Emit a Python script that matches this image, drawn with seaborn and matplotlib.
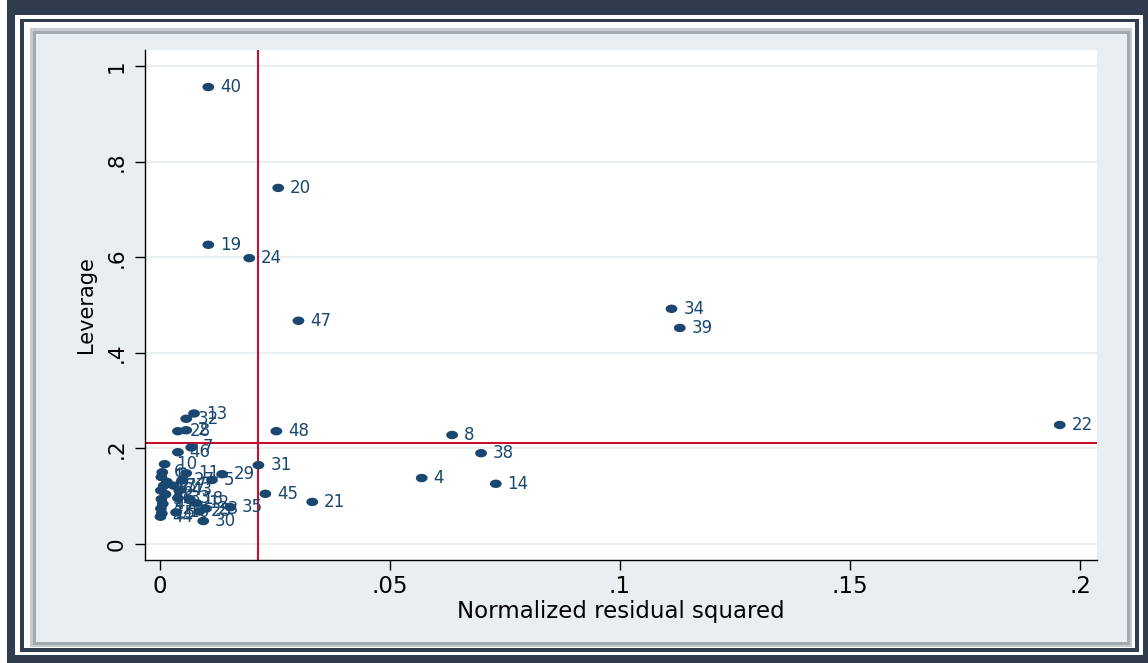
import numpy as np
import pandas as pd
import seaborn as sns
import matplotlib.pyplot as plt
from matplotlib.patches import Rectangle
from matplotlib.path import Path

obs = [40, 20, 19, 24, 47, 34, 39, 22, 8, 38, 4, 14, 48, 31, 45, 21, 35, 30,
       13, 32, 28, 2, 46, 7,
       10, 6, 1, 9, 17, 26, 3, 36, 41, 42, 15, 44, 16,
       11, 27, 37, 43, 33, 18, 12, 23, 25, 29, 5]
nrs = [0.0105, 0.0257, 0.0105, 0.0194, 0.0301, 0.1112, 0.1130, 0.1956, 0.0635,
       0.0698, 0.0569, 0.0730, 0.0253, 0.0214, 0.0229, 0.0331, 0.0153, 0.0094,
       0.0074, 0.0057, 0.0039, 0.0057, 0.0039, 0.0068,
       0.0010, 0.0005, 0.0003, 0.0015, 0.0008, 0.0002, 0.0012, 0.0003, 0.0006,
       0.0002, 0.0004, 0.0001, 0.0035,
       0.0057, 0.0048, 0.0030, 0.0042, 0.0039, 0.0065, 0.0080, 0.0100, 0.0085,
       0.0135, 0.0113]
lev = [0.956, 0.745, 0.626, 0.598, 0.467, 0.492, 0.452, 0.249, 0.228, 0.190,
       0.138, 0.126, 0.236, 0.165, 0.105, 0.088, 0.077, 0.048,
       0.273, 0.262, 0.236, 0.238, 0.192, 0.202,
       0.167, 0.150, 0.140, 0.130, 0.122, 0.112, 0.104, 0.094, 0.084, 0.074,
       0.064, 0.057, 0.066,
       0.148, 0.133, 0.122, 0.112, 0.096, 0.094, 0.085, 0.074, 0.068, 0.146,
       0.134]
mean_nrs = 0.0213
mean_lev = 0.2105

xticks = [0, 0.05, 0.1, 0.15, 0.2]
xtick_labels = ["0", ".05", ".1", ".15", ".2"]
yticks = [0, 0.2, 0.4, 0.6, 0.8, 1]
ytick_labels = ["0", ".2", ".4", ".6", ".8", "1"]

df = pd.DataFrame({"obs": obs, "nrs": nrs, "lev": lev})

navy = "#1a476f"
red = "#c8102e"
dark = "#2f3d4e"
panel = "#e8eef1"

sns.set_style("ticks")
plt.rcParams["font.family"] = ["DejaVu Sans"]

W, H = 1148, 663
fig = plt.figure(figsize=(W / 100, H / 100), dpi=100)
fig.patch.set_facecolor("white")


def box(x0, y0, x1, y1, color, z):
    fig.patches.append(Rectangle((x0 / W, 1 - y1 / H), (x1 - x0) / W, (y1 - y0) / H,
                                 transform=fig.transFigure, facecolor=color,
                                 edgecolor="none", zorder=z))


# framed border around the graph
box(7, 0, W, H, dark, -10)
box(15, 15, 1143, 655, "white", -9)
box(20, 19, 1139, 652, dark, -8)
box(24, 22, 1135, 648, "white", -7)
box(30, 28, 1132, 647, "#c5ccd0", -6)
box(33, 31, 1130, 645, "#a3abb1", -5)
box(36, 34, 1127, 642, panel, -4)

ax = fig.add_axes([145 / W, 1 - 560 / H, 952 / W, 510 / H])
ax.set_facecolor("white")

# stata-like elliptic dot
t = np.linspace(0, 2 * np.pi, 40)
dot = Path(np.column_stack([1.4 * np.cos(t), np.sin(t)]), closed=True)

for y in yticks:
    ax.axhline(y, color="#e6edf0", lw=1.2, zorder=0.5)
ax.axhline(mean_lev, color=red, lw=1.5, zorder=1.5)
ax.axvline(mean_nrs, color=red, lw=1.5, zorder=1.5)

sns.scatterplot(data=df, x="nrs", y="lev", marker=dot, s=72, color=navy,
                edgecolor="none", linewidth=0, ax=ax, legend=False, zorder=2)

for _, r in df.iterrows():
    ax.annotate(str(int(r["obs"])), (r["nrs"], r["lev"]), xytext=(8.5, 0),
                textcoords="offset points", va="center", ha="left",
                fontsize=12, color=navy, zorder=3)

ax.set_xlim(-0.00326, 0.2037)
ax.set_ylim(-0.0335, 1.0335)
ax.set_xticks(xticks)
ax.set_xticklabels(xtick_labels)
ax.set_yticks(yticks)
ax.set_yticklabels(ytick_labels, rotation=90, va="center")
ax.tick_params(axis="both", length=7, width=1, color="black",
               labelcolor="black", direction="out")
ax.tick_params(axis="x", pad=4, labelsize=16.5)
ax.tick_params(axis="y", pad=6, labelsize=15.5)
for side in ["top", "right"]:
    ax.spines[side].set_visible(False)
for side in ["left", "bottom"]:
    ax.spines[side].set_color("black")
    ax.spines[side].set_linewidth(1)

ax.set_xlabel("Normalized residual squared", fontsize=16.5, labelpad=1, color="black")
ax.set_ylabel("Leverage", fontsize=15, labelpad=8, color="black")

fig.savefig("out.png", dpi=100)
